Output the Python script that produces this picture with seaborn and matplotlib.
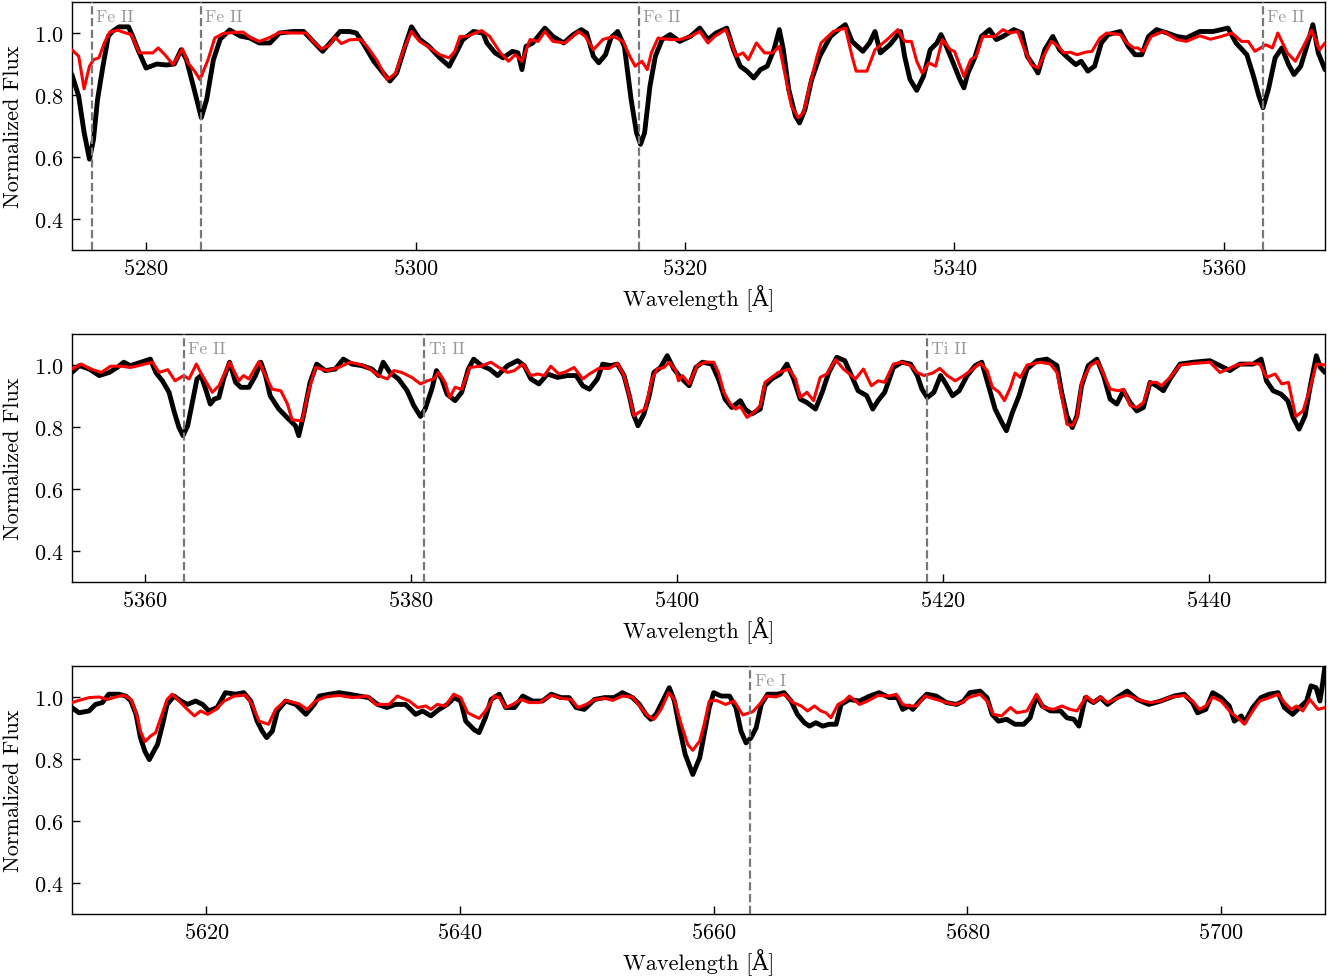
import matplotlib
matplotlib.use("Agg")
import matplotlib.pyplot as plt
from matplotlib.ticker import MultipleLocator
import seaborn as sns

# ---------------------------------------------------------------------------
# Spectral data (wavelength in Angstrom, continuum-normalised flux)
# ---------------------------------------------------------------------------

# Window 1: 5274 - 5368 A
w1_obs = [5274.5, 5275.0, 5275.4, 5275.8, 5276.1, 5276.4, 5276.8, 5277.2, 5277.5, 5278.0,
          5278.7, 5279.0, 5279.4, 5280.0, 5280.8, 5281.5, 5282.1, 5282.6, 5283.0, 5283.5,
          5284.1, 5284.5, 5285.0, 5285.5, 5286.2, 5287.0, 5287.7, 5288.4, 5289.2, 5289.9,
          5290.9, 5291.7, 5292.4, 5293.1, 5293.9, 5294.4, 5295.1, 5295.6, 5296.1, 5296.9,
          5297.6, 5298.1, 5298.6, 5299.3, 5299.7, 5300.3, 5301.0, 5301.8, 5302.5, 5303.0,
          5303.5, 5304.3, 5305.0, 5305.3, 5305.9, 5306.5, 5307.2, 5307.6, 5307.9, 5308.2,
          5308.7, 5309.6, 5310.2, 5311.0, 5311.7, 5312.3, 5312.7, 5313.2, 5313.6, 5314.1,
          5314.5, 5315.0, 5315.5, 5316.0, 5316.4, 5316.7, 5317.0, 5317.4, 5317.8, 5318.3,
          5318.9, 5319.6, 5320.4, 5321.1, 5321.7, 5322.3, 5323.1, 5323.6, 5324.1, 5324.6,
          5325.1, 5325.6, 5326.1, 5326.6, 5327.0, 5327.3, 5327.7, 5328.2, 5328.5, 5328.9,
          5329.4, 5330.0, 5330.8, 5331.4, 5331.9, 5332.4, 5333.2, 5333.7, 5334.1, 5334.5,
          5335.2, 5336.0, 5336.3, 5336.7, 5337.2, 5337.7, 5338.2, 5338.7, 5339.0, 5339.4,
          5339.9, 5340.4, 5340.7, 5341.0, 5341.5, 5342.0, 5342.6, 5343.1, 5343.6, 5344.4,
          5345.0, 5345.4, 5345.9, 5346.2, 5346.7, 5347.3, 5347.8, 5348.3, 5349.0, 5349.4,
          5349.9, 5350.4, 5350.9, 5351.4, 5352.3, 5352.9, 5353.4, 5353.9, 5354.4, 5355.0,
          5355.8, 5356.5, 5357.2, 5358.2, 5359.2, 5360.3, 5360.9, 5361.7, 5362.2, 5362.6,
          5362.9, 5363.3, 5363.8, 5364.3, 5364.8, 5365.2, 5365.7, 5366.3, 5366.6, 5367.0,
          5367.5]
f1_obs = [0.866, 0.796, 0.680, 0.593, 0.657, 0.786, 0.893, 0.990, 1.005, 1.020,
          1.020, 0.990, 0.946, 0.887, 0.900, 0.897, 0.900, 0.946, 0.914, 0.830,
          0.727, 0.786, 0.914, 0.980, 1.010, 0.990, 0.984, 0.968, 0.968, 1.000,
          1.005, 1.005, 0.973, 0.941, 0.980, 1.005, 1.005, 1.000, 0.968, 0.909,
          0.871, 0.845, 0.871, 0.968, 1.020, 0.980, 0.957, 0.920, 0.893, 0.935,
          0.978, 1.005, 1.000, 0.968, 0.936, 0.920, 0.941, 0.936, 0.882, 0.957,
          0.968, 1.016, 0.989, 0.968, 0.995, 1.011, 1.000, 0.925, 0.904, 0.930,
          0.984, 1.005, 0.957, 0.786, 0.678, 0.641, 0.678, 0.829, 0.925, 0.979,
          0.995, 0.973, 0.989, 1.016, 0.979, 1.000, 1.016, 0.946, 0.893, 0.877,
          0.855, 0.882, 0.893, 0.946, 1.011, 0.946, 0.818, 0.732, 0.710, 0.753,
          0.850, 0.925, 0.989, 1.011, 1.027, 0.973, 0.941, 0.968, 1.005, 0.936,
          0.962, 1.005, 0.925, 0.850, 0.815, 0.860, 0.946, 0.968, 0.995, 0.957,
          0.904, 0.850, 0.823, 0.871, 0.920, 0.989, 1.011, 0.979, 0.989, 1.011,
          1.000, 0.925, 0.893, 0.871, 0.946, 0.989, 0.946, 0.925, 0.898, 0.909,
          0.877, 0.893, 0.968, 0.995, 1.005, 0.957, 0.930, 0.930, 0.989, 1.011,
          1.000, 0.989, 0.984, 1.005, 1.005, 1.016, 0.968, 0.930, 0.860, 0.796,
          0.759, 0.818, 0.920, 0.952, 0.898, 0.866, 0.893, 0.979, 1.027, 0.936,
          0.882]

w1_mod = [5274.5, 5275.0, 5275.4, 5275.8, 5276.1, 5276.5, 5276.9, 5277.3, 5277.9, 5278.5,
          5278.9, 5279.5, 5280.0, 5280.5, 5280.9, 5281.4, 5282.0, 5282.7, 5283.1, 5283.6,
          5284.0, 5284.6, 5285.1, 5285.7, 5286.5, 5287.2, 5287.8, 5288.4, 5289.1, 5289.9,
          5290.9, 5291.9, 5292.4, 5293.0, 5293.6, 5294.0, 5294.5, 5295.1, 5295.9, 5296.4,
          5297.1, 5297.9, 5298.5, 5299.1, 5299.7, 5300.3, 5300.9, 5301.8, 5302.5, 5302.9,
          5303.3, 5303.8, 5304.9, 5305.5, 5306.3, 5306.9, 5307.4, 5307.9, 5308.5, 5309.1,
          5309.6, 5310.2, 5311.1, 5312.1, 5312.6, 5313.2, 5313.9, 5314.7, 5315.4, 5315.9,
          5316.3, 5316.8, 5317.2, 5317.5, 5318.0, 5318.9, 5319.6, 5320.4, 5321.1, 5321.7,
          5322.2, 5323.0, 5323.3, 5323.8, 5324.3, 5324.7, 5325.3, 5325.9, 5326.5, 5327.0,
          5327.4, 5327.9, 5328.4, 5328.8, 5329.3, 5329.8, 5330.1, 5331.0, 5331.9, 5332.4,
          5332.7, 5333.5, 5334.1, 5335.0, 5335.8, 5336.3, 5336.8, 5337.2, 5337.6, 5338.1,
          5338.6, 5339.1, 5339.7, 5340.0, 5340.7, 5341.2, 5341.6, 5342.1, 5343.0, 5343.6,
          5344.1, 5344.7, 5345.2, 5345.7, 5346.2, 5346.6, 5347.2, 5347.7, 5348.1, 5348.6,
          5349.1, 5349.7, 5350.2, 5350.8, 5351.3, 5352.3, 5352.8, 5353.3, 5353.6, 5354.0,
          5354.6, 5355.5, 5356.5, 5357.2, 5358.2, 5359.0, 5359.8, 5360.6, 5361.3, 5361.8,
          5362.3, 5363.1, 5363.6, 5364.0, 5364.7, 5365.3, 5365.9, 5366.5, 5367.1, 5367.5]
f1_mod = [0.946, 0.925, 0.820, 0.893, 0.914, 0.920, 0.968, 1.003, 1.009, 1.000,
          0.995, 0.936, 0.936, 0.936, 0.952, 0.930, 0.898, 0.949, 0.904, 0.877,
          0.850, 0.914, 0.984, 0.998, 1.002, 1.003, 0.984, 0.973, 0.984, 1.002,
          1.000, 1.000, 0.973, 0.949, 0.960, 0.987, 0.966, 0.978, 0.980, 0.957,
          0.914, 0.850, 0.869, 0.946, 1.005, 0.973, 0.957, 0.930, 0.920, 0.940,
          0.989, 0.989, 1.008, 0.989, 0.936, 0.909, 0.930, 0.909, 0.979, 0.973,
          1.005, 0.973, 0.968, 1.005, 0.989, 0.946, 0.979, 0.989, 0.973, 0.925,
          0.893, 0.909, 0.882, 0.936, 0.984, 0.979, 0.979, 0.989, 1.005, 0.968,
          0.989, 1.011, 0.984, 0.925, 0.936, 0.914, 0.968, 0.936, 0.936, 0.957,
          0.871, 0.764, 0.727, 0.743, 0.839, 0.925, 0.968, 1.005, 1.016, 0.925,
          0.877, 0.877, 0.946, 0.979, 1.011, 0.973, 0.973, 0.909, 0.871, 0.904,
          0.893, 0.979, 0.946, 0.941, 0.860, 0.914, 0.925, 0.989, 0.989, 1.011,
          1.000, 1.005, 0.946, 0.898, 0.887, 0.925, 0.973, 0.957, 0.936, 0.938,
          0.930, 0.938, 0.941, 0.984, 1.000, 0.995, 0.968, 0.952, 0.952, 0.941,
          0.989, 1.005, 0.979, 0.973, 0.991, 0.980, 0.989, 1.000, 0.973, 0.973,
          0.941, 0.962, 0.952, 1.000, 0.936, 0.909, 0.957, 1.009, 0.946, 0.968]

# Window 2: 5354 - 5449 A
w2_obs = [5354.5, 5355.05, 5355.8, 5356.55, 5357.3, 5357.9, 5358.4, 5358.9, 5359.7, 5360.4,
          5360.8, 5361.3, 5361.8, 5362.2, 5362.55, 5362.85, 5363.2, 5363.55, 5363.9, 5364.2,
          5364.55, 5364.9, 5365.2, 5365.55, 5365.9, 5366.35, 5366.8, 5367.2, 5367.8, 5368.3,
          5368.7, 5369.05, 5369.4, 5370.05, 5370.8, 5371.3, 5371.55, 5371.9, 5372.4, 5372.9,
          5373.55, 5374.3, 5374.9, 5375.55, 5376.3, 5377.05, 5377.55, 5377.9, 5378.4, 5379.05,
          5379.7, 5380.2, 5380.7, 5381.05, 5381.55, 5381.9, 5382.3, 5382.7, 5383.3, 5383.8,
          5384.3, 5384.7, 5385.3, 5385.9, 5386.5, 5387.25, 5388.0, 5388.5, 5389.0, 5389.6,
          5390.25, 5391.0, 5391.75, 5392.4, 5392.9, 5393.4, 5394.0, 5394.4, 5395.0, 5395.5,
          5396.0, 5396.4, 5396.7, 5397.05, 5397.5, 5397.9, 5398.25, 5398.75, 5399.25, 5399.75,
          5400.25, 5400.9, 5401.4, 5401.9, 5402.6, 5403.1, 5403.6, 5404.1, 5404.75, 5405.1,
          5405.6, 5406.25, 5406.6, 5407.1, 5407.75, 5408.25, 5408.75, 5409.25, 5409.75, 5410.4,
          5410.9, 5411.4, 5412.0, 5412.6, 5413.1, 5413.6, 5414.25, 5414.7, 5415.1, 5415.6,
          5416.25, 5416.9, 5417.55, 5418.05, 5418.4, 5418.8, 5419.3, 5419.8, 5420.2, 5420.7,
          5421.2, 5421.8, 5422.4, 5422.9, 5423.4, 5423.9, 5424.4, 5424.75, 5425.2, 5425.7,
          5426.3, 5427.05, 5427.8, 5428.55, 5428.9, 5429.3, 5429.7, 5430.05, 5430.4, 5430.9,
          5431.55, 5432.05, 5432.55, 5433.05, 5433.55, 5434.05, 5434.55, 5435.05, 5435.55, 5436.05,
          5436.55, 5437.05, 5437.8, 5438.8, 5440.05, 5440.8, 5441.55, 5442.3, 5443.3, 5443.9,
          5444.3, 5444.8, 5445.4, 5445.9, 5446.3, 5446.75, 5447.2, 5447.6, 5448.05, 5448.35,
          5448.7]
f2_obs = [0.976, 0.998, 0.987, 0.966, 0.976, 0.992, 1.009, 0.998, 1.009, 1.019,
          0.976, 0.949, 0.912, 0.847, 0.798, 0.772, 0.804, 0.879, 0.955, 0.966,
          0.922, 0.874, 0.890, 0.895, 0.955, 1.009, 0.944, 0.928, 0.928, 0.966,
          1.009, 0.966, 0.901, 0.858, 0.825, 0.804, 0.772, 0.836, 0.944, 1.003,
          0.982, 0.987, 1.019, 1.003, 0.998, 0.987, 0.966, 1.009, 0.976, 0.955,
          0.917, 0.869, 0.834, 0.858, 0.922, 0.982, 0.955, 0.906, 0.885, 0.912,
          0.987, 1.019, 0.998, 0.987, 0.966, 0.998, 1.014, 0.998, 0.955, 0.939,
          0.971, 0.960, 0.966, 0.966, 0.933, 0.922, 0.955, 1.003, 0.998, 1.003,
          0.966, 0.901, 0.842, 0.804, 0.842, 0.901, 0.976, 0.992, 1.030, 0.987,
          0.960, 0.933, 0.992, 1.009, 1.003, 0.955, 0.890, 0.863, 0.885, 0.858,
          0.842, 0.858, 0.933, 0.955, 0.971, 1.003, 0.955, 0.890, 0.879, 0.858,
          0.912, 0.976, 1.025, 1.014, 0.966, 0.917, 0.901, 0.858, 0.885, 0.912,
          0.992, 1.009, 1.003, 0.966, 0.922, 0.895, 0.912, 0.966, 0.939, 0.901,
          0.917, 0.966, 0.998, 1.009, 0.933, 0.858, 0.815, 0.788, 0.847, 0.901,
          0.987, 1.014, 1.019, 0.998, 0.912, 0.836, 0.798, 0.836, 0.933, 0.998,
          1.019, 0.966, 0.890, 0.874, 0.917, 0.879, 0.852, 0.863, 0.944, 0.933,
          0.917, 0.955, 1.003, 1.009, 1.014, 0.998, 0.982, 1.003, 1.003, 1.019,
          0.949, 0.917, 0.906, 0.885, 0.831, 0.793, 0.836, 0.933, 1.030, 0.992,
          0.976]

w2_mod = [5354.5, 5355.2, 5355.9, 5356.7, 5357.4, 5358.2, 5358.9, 5359.7, 5360.55, 5361.05,
          5361.7, 5362.25, 5362.9, 5363.3, 5363.85, 5364.3, 5365.05, 5365.55, 5365.9, 5366.35,
          5367.05, 5367.4, 5367.8, 5368.55, 5369.05, 5369.55, 5370.2, 5370.7, 5371.05, 5371.8,
          5372.2, 5372.8, 5373.7, 5374.55, 5375.4, 5376.3, 5376.9, 5377.55, 5378.2, 5378.7,
          5379.3, 5380.05, 5380.7, 5381.2, 5381.7, 5382.05, 5382.55, 5382.9, 5383.3, 5383.8,
          5384.4, 5385.2, 5386.0, 5386.6, 5387.25, 5387.75, 5388.4, 5389.0, 5389.5, 5390.0,
          5390.5, 5391.1, 5391.6, 5392.25, 5392.9, 5393.4, 5394.1, 5394.9, 5395.5, 5396.0,
          5396.4, 5396.75, 5397.1, 5397.6, 5398.1, 5398.5, 5399.0, 5399.4, 5399.9, 5400.1,
          5400.4, 5400.9, 5401.5, 5402.1, 5402.75, 5403.1, 5403.5, 5404.0, 5404.4, 5404.75,
          5405.25, 5405.75, 5406.25, 5406.6, 5407.1, 5407.6, 5408.4, 5408.9, 5409.25, 5409.75,
          5410.25, 5410.75, 5411.25, 5411.9, 5412.5, 5413.4, 5414.0, 5414.6, 5415.1, 5415.6,
          5416.25, 5416.9, 5417.55, 5418.05, 5418.55, 5419.2, 5419.75, 5420.3, 5420.9, 5421.55,
          5422.2, 5422.8, 5423.3, 5423.7, 5424.2, 5424.6, 5425.05, 5425.4, 5425.8, 5426.3,
          5427.3, 5428.05, 5428.55, 5428.9, 5429.3, 5429.7, 5430.05, 5430.4, 5431.05, 5431.6,
          5432.05, 5432.55, 5433.2, 5433.55, 5434.05, 5434.55, 5435.05, 5435.55, 5436.05, 5436.4,
          5437.05, 5437.8, 5438.8, 5440.05, 5440.8, 5441.4, 5442.05, 5442.95, 5443.8, 5444.3,
          5444.95, 5445.45, 5445.95, 5446.5, 5447.05, 5447.55, 5448.05, 5448.7]
f2_mod = [0.987, 1.003, 0.987, 0.976, 0.996, 0.996, 0.992, 1.000, 1.009, 0.976,
          0.985, 0.949, 0.966, 0.955, 1.003, 0.966, 0.912, 0.933, 0.966, 1.009,
          0.949, 0.966, 0.955, 1.011, 0.966, 0.922, 0.917, 0.874, 0.823, 0.820,
          0.901, 0.992, 0.982, 0.992, 1.009, 1.000, 0.987, 0.966, 0.955, 0.982,
          0.976, 0.960, 0.939, 0.949, 0.955, 0.976, 0.944, 0.895, 0.928, 0.922,
          0.992, 0.996, 1.009, 0.992, 0.976, 0.982, 1.003, 0.966, 0.971, 0.966,
          0.996, 0.971, 0.978, 0.992, 0.955, 0.971, 0.989, 0.989, 1.005, 0.966,
          0.901, 0.836, 0.847, 0.858, 0.955, 0.987, 0.992, 1.009, 0.982, 0.949,
          0.966, 0.939, 0.998, 1.009, 1.009, 0.976, 0.912, 0.874, 0.858, 0.866,
          0.831, 0.847, 0.869, 0.944, 0.960, 0.976, 0.987, 0.955, 0.895, 0.912,
          0.885, 0.960, 0.971, 1.017, 0.987, 0.955, 0.987, 0.933, 0.949, 0.944,
          1.003, 1.009, 0.998, 0.976, 0.966, 0.974, 0.989, 0.966, 0.949, 0.966,
          0.987, 1.006, 0.982, 0.928, 0.912, 0.885, 0.928, 0.974, 0.960, 1.000,
          1.009, 1.003, 0.976, 0.901, 0.809, 0.804, 0.831, 0.944, 0.998, 1.012,
          0.971, 0.922, 0.917, 0.922, 0.869, 0.863, 0.879, 0.944, 0.944, 0.933,
          0.960, 1.000, 1.005, 1.009, 0.976, 0.987, 1.000, 1.005, 1.003, 0.960,
          0.971, 0.939, 0.944, 0.834, 0.852, 0.922, 1.003, 1.000]

# Window 3: 5609 - 5708 A
w3_obs = [5609.4, 5609.95, 5610.75, 5611.25, 5611.8, 5612.3, 5613.1, 5613.65, 5614.05, 5614.45,
          5614.8, 5615.15, 5615.5, 5615.85, 5616.15, 5616.55, 5616.9, 5617.45, 5618.0, 5618.5,
          5619.15, 5619.7, 5620.2, 5620.85, 5621.5, 5622.3, 5622.95, 5623.5, 5624.0, 5624.4,
          5624.75, 5625.2, 5625.6, 5626.25, 5627.05, 5627.85, 5628.5, 5628.9, 5629.7, 5630.45,
          5631.25, 5632.05, 5632.8, 5633.5, 5634.25, 5634.9, 5635.7, 5636.5, 5637.05, 5637.7,
          5638.35, 5639.0, 5639.55, 5640.05, 5640.45, 5641.1, 5641.5, 5642.0, 5642.45, 5643.1,
          5643.6, 5644.3, 5644.95, 5645.7, 5646.5, 5647.2, 5647.95, 5648.6, 5649.15, 5649.8,
          5650.6, 5651.4, 5652.15, 5652.8, 5653.6, 5654.15, 5654.65, 5655.05, 5655.45, 5655.98,
          5656.5, 5656.9, 5657.3, 5657.75, 5658.35, 5658.9, 5659.25, 5659.65, 5660.0, 5660.6,
          5661.25, 5661.75, 5662.15, 5662.55, 5662.95, 5663.35, 5663.75, 5664.25, 5665.05, 5665.55,
          5666.1, 5666.6, 5667.15, 5667.55, 5668.05, 5668.6, 5669.1, 5669.65, 5670.05, 5670.7,
          5671.5, 5672.3, 5673.05, 5673.85, 5674.5, 5674.9, 5675.4, 5675.7, 5676.25, 5676.8,
          5677.55, 5678.35, 5679.15, 5679.7, 5680.2, 5681.0, 5681.55, 5681.95, 5682.45, 5683.1,
          5683.75, 5684.45, 5684.95, 5685.45, 5685.9, 5686.55, 5687.35, 5687.85, 5688.4, 5688.8,
          5689.3, 5689.95, 5690.5, 5691.05, 5691.8, 5692.6, 5693.4, 5694.3, 5695.25, 5696.3,
          5697.1, 5697.75, 5698.15, 5698.8, 5699.35, 5700.0, 5700.65, 5701.05, 5701.6, 5701.85,
          5702.5, 5703.15, 5703.8, 5704.5, 5705.0, 5705.65, 5706.2, 5706.75, 5707.1, 5707.5,
          5707.8, 5708.0, 5708.2]
f3_obs = [0.966, 0.949, 0.955, 0.976, 0.982, 1.009, 1.009, 1.003, 0.987, 0.944,
          0.869, 0.825, 0.798, 0.825, 0.847, 0.912, 0.976, 1.003, 0.987, 0.976,
          0.987, 0.976, 0.955, 0.966, 1.014, 1.009, 1.014, 0.987, 0.922, 0.890,
          0.869, 0.890, 0.955, 0.987, 0.976, 0.944, 0.976, 1.003, 1.009, 1.014,
          1.009, 1.003, 0.998, 0.976, 0.966, 0.976, 0.976, 0.944, 0.955, 0.939,
          0.960, 0.976, 0.998, 0.987, 0.922, 0.895, 0.885, 0.933, 0.992, 1.009,
          0.966, 0.966, 1.003, 0.987, 0.987, 1.009, 0.998, 0.998, 0.966, 0.960,
          0.992, 0.998, 0.998, 1.014, 0.998, 0.976, 0.944, 0.928, 0.944, 0.987,
          1.030, 0.987, 0.901, 0.815, 0.750, 0.804, 0.879, 0.966, 1.014, 1.003,
          1.003, 0.966, 0.890, 0.852, 0.869, 0.901, 0.976, 1.009, 1.009, 1.014,
          0.987, 0.944, 0.917, 0.906, 0.917, 0.906, 0.912, 0.912, 0.976, 0.992,
          0.987, 1.003, 1.014, 0.998, 0.998, 0.960, 0.971, 0.960, 0.987, 1.009,
          1.003, 0.982, 0.976, 0.987, 1.014, 1.019, 0.998, 0.944, 0.922, 0.928,
          0.912, 0.912, 0.933, 1.003, 0.971, 0.955, 0.955, 0.933, 0.928, 0.906,
          0.998, 0.982, 0.998, 0.976, 0.998, 1.019, 0.992, 0.976, 0.987, 1.003,
          1.009, 0.982, 0.949, 0.960, 1.014, 0.998, 0.971, 0.922, 0.939, 0.917,
          0.966, 0.998, 1.009, 1.014, 0.966, 0.944, 0.966, 0.987, 1.036, 1.030,
          0.987, 1.040, 1.100]

w3_mod = [5609.4, 5609.95, 5610.75, 5611.55, 5612.2, 5612.85, 5613.5, 5614.05, 5614.5, 5614.8,
          5615.15, 5615.6, 5616.0, 5616.4, 5616.9, 5617.3, 5617.85, 5618.35, 5619.05, 5619.55,
          5620.1, 5620.75, 5621.4, 5622.2, 5623.1, 5623.6, 5624.15, 5624.9, 5625.45, 5626.25,
          5627.3, 5627.95, 5628.6, 5629.4, 5630.45, 5631.5, 5632.7, 5633.35, 5634.4, 5635.05,
          5636.0, 5636.65, 5637.3, 5637.7, 5638.2, 5638.85, 5639.5, 5640.05, 5640.6, 5641.5,
          5642.0, 5642.7, 5643.1, 5643.6, 5644.15, 5644.8, 5645.45, 5646.25, 5647.2, 5647.95,
          5648.75, 5649.3, 5649.95, 5650.6, 5651.4, 5652.05, 5652.8, 5653.6, 5654.25, 5654.8,
          5655.3, 5655.85, 5656.45, 5656.9, 5657.4, 5657.95, 5658.35, 5658.9, 5659.25, 5659.65,
          5660.2, 5660.95, 5661.6, 5662.3, 5663.1, 5663.6, 5664.15, 5664.9, 5665.55, 5666.25,
          5666.9, 5667.4, 5667.95, 5668.45, 5668.85, 5669.25, 5669.8, 5670.3, 5670.7, 5671.5,
          5672.15, 5672.95, 5673.85, 5674.4, 5674.9, 5675.45, 5676.0, 5676.65, 5677.55, 5678.35,
          5679.0, 5679.55, 5680.1, 5681.0, 5681.55, 5682.05, 5682.7, 5683.4, 5683.9, 5684.7,
          5685.45, 5686.0, 5686.8, 5687.45, 5688.1, 5688.65, 5689.4, 5689.95, 5690.5, 5691.05,
          5691.8, 5692.6, 5693.65, 5694.45, 5695.25, 5696.05, 5697.1, 5697.75, 5698.3, 5698.8,
          5699.35, 5700.0, 5700.8, 5701.45, 5701.85, 5702.4, 5703.05, 5703.7, 5704.5, 5705.0,
          5705.55, 5705.95, 5706.45, 5707.0, 5707.65, 5708.2]
f3_mod = [0.982, 0.989, 0.998, 1.000, 0.992, 1.000, 1.006, 0.992, 0.944, 0.890,
          0.856, 0.874, 0.885, 0.933, 0.992, 1.009, 0.987, 0.966, 0.939, 0.955,
          0.944, 0.960, 0.987, 1.003, 1.006, 0.976, 0.922, 0.912, 0.960, 0.989,
          0.978, 0.960, 0.987, 1.000, 1.005, 0.998, 1.003, 0.976, 0.976, 1.003,
          0.987, 0.966, 0.971, 0.960, 0.976, 0.971, 1.009, 0.998, 0.949, 0.931,
          0.955, 1.003, 0.998, 0.966, 0.976, 0.992, 0.982, 0.982, 1.006, 0.996,
          0.992, 0.966, 0.976, 0.992, 0.996, 0.989, 1.003, 1.000, 0.966, 0.939,
          0.928, 0.960, 1.014, 0.992, 0.917, 0.847, 0.828, 0.858, 0.912, 0.987,
          0.989, 0.976, 0.987, 0.942, 0.953, 0.976, 1.003, 1.000, 1.009, 0.982,
          0.971, 0.955, 0.971, 0.955, 0.949, 0.933, 0.976, 0.987, 1.003, 0.976,
          0.987, 1.005, 1.003, 1.009, 0.976, 0.971, 0.971, 1.003, 0.992, 0.982,
          0.976, 0.982, 0.998, 1.009, 0.987, 0.944, 0.939, 0.966, 0.949, 0.955,
          1.009, 0.966, 0.960, 0.971, 0.960, 0.955, 1.003, 0.982, 1.000, 0.982,
          0.996, 1.006, 0.989, 0.982, 0.987, 1.000, 1.005, 0.987, 0.960, 0.971,
          1.000, 0.987, 0.949, 0.928, 0.912, 0.949, 0.987, 0.996, 1.009, 0.982,
          0.960, 0.971, 0.955, 0.992, 0.960, 0.966]

# Identified lines per window: (rest wavelength, ion)
lines1 = [(5276.0, "Fe II"), (5284.1, "Fe II"), (5316.6, "Fe II"), (5362.9, "Fe II")]
lines2 = [(5362.9, "Fe II"), (5381.0, "Ti II"), (5418.8, "Ti II")]
lines3 = [(5662.9, "Fe I")]

yticks = [0.4, 0.6, 0.8, 1.0]

# ---------------------------------------------------------------------------
sns.set_theme(style="white")
plt.rcParams.update({
    "font.family": ["cmr10", "DejaVu Serif"],
    "mathtext.fontset": "cm",
    "axes.formatter.use_mathtext": True,
    "axes.unicode_minus": False,
    "axes.edgecolor": "black",
    "axes.linewidth": 1.0,
    "xtick.bottom": True,
    "ytick.left": True,
    "xtick.direction": "in",
    "ytick.direction": "in",
    "xtick.color": "black",
    "ytick.color": "black",
    "text.color": "black",
    "axes.labelcolor": "black",
})

fig = plt.figure(figsize=(13.4, 9.79), dpi=100)
left, width, height = 0.0537, 0.9351, 0.2533
bottoms = [0.7436, 0.4045, 0.0654]

panels = [
    (w1_obs, f1_obs, w1_mod, f1_mod, lines1),
    (w2_obs, f2_obs, w2_mod, f2_mod, lines2),
    (w3_obs, f3_obs, w3_mod, f3_mod, lines3),
]

for bottom, (wo, fo, wm, fm, lines) in zip(bottoms, panels):
    ax = fig.add_axes([left, bottom, width, height])
    sns.lineplot(x=wo, y=fo, ax=ax, color="black", linewidth=3.5,
                 estimator=None, sort=False, zorder=2,
                 solid_joinstyle="round", solid_capstyle="round")
    sns.lineplot(x=wm, y=fm, ax=ax, color="#ff0000", linewidth=2.2,
                 estimator=None, sort=False, zorder=3,
                 solid_joinstyle="round", solid_capstyle="round")
    for wl, ion in lines:
        ax.axvline(wl, color="#777777", linestyle="--", linewidth=1.6, zorder=4)
        ax.annotate(ion, xy=(wl, 1.077), xytext=(3, 0), textcoords="offset points",
                    ha="left", va="top", fontsize=12.5, color="#999999")
    ax.set_xlim(min(wo), max(wo))
    ax.set_ylim(0.3, 1.1)
    ax.set_yticks(yticks)
    ax.xaxis.set_major_locator(MultipleLocator(20))
    ax.tick_params(axis="both", labelsize=16, length=6, width=1.0, pad=6)
    ax.set_xlabel("Wavelength [Å]", fontsize=16, labelpad=4)
    ax.set_ylabel("Normalized Flux", fontsize=16, labelpad=8)
    for sp in ax.spines.values():
        sp.set_color("black")
        sp.set_linewidth(1.0)

fig.savefig("out.png", dpi=100)
